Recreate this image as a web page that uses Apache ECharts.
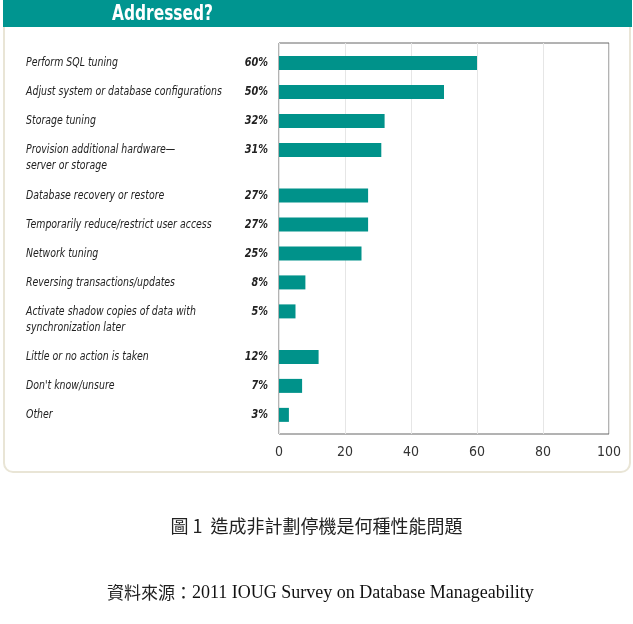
<!DOCTYPE html>
<html>
<head>
<meta charset="utf-8">
<script src="https://cdn.jsdelivr.net/npm/echarts@6/dist/echarts.min.js"></script>
<style>
  html, body { margin: 0; padding: 0; background: #fff; }
  #main { width: 633px; height: 624px; }
</style>
</head>
<body>
<div id="main"></div>
<script>
// answers, top to bottom ("\n" = label wraps to a second line)
var actions = [
  'Perform SQL tuning',
  'Adjust system or database configurations',
  'Storage tuning',
  'Provision additional hardware\u2014\nserver or storage',
  'Database recovery or restore',
  'Temporarily reduce/restrict user access',
  'Network tuning',
  'Reversing transactions/updates',
  'Activate shadow copies of data with\nsynchronization later',
  'Little or no action is taken',
  "Don't know/unsure",
  'Other'
];
var percents = [60, 50, 32, 31, 27, 27, 25, 8, 5, 12, 7, 3];
var xTicks = [0, 20, 40, 60, 80, 100];

var narrow = '"Liberation Sans Narrow", "DejaVu Sans Condensed", sans-serif';

// row positions: a wrapped label pushes the next row down a bit
var rows = [];
var pos = 0;
for (var i = 0; i < actions.length; i++) {
  rows.push([percents[i], pos, actions[i]]);
  pos += actions[i].indexOf('\n') >= 0 ? 1.57 : 1;
}
var lastRow = rows[rows.length - 1][1];

var chart = echarts.init(document.getElementById('main'));

var option = {
  backgroundColor: '#fff',
  animation: false,
  graphic: [
    // card outline with rounded bottom corners
    {
      type: 'rect',
      shape: { x: 4, y: 20, width: 626, height: 452, r: [0, 0, 9, 9] },
      style: { fill: '#fff', stroke: '#e9e5d6', lineWidth: 2 },
      z: -10
    },
    // teal header band
    {
      type: 'rect',
      shape: { x: 3, y: 0, width: 629, height: 27 },
      style: { fill: '#009590' },
      z: -5
    },
    {
      type: 'text',
      x: 112, y: 3,
      scaleX: 0.78,
      style: { text: 'Addressed?', fill: '#fff', font: 'bold 22px ' + narrow }
    },
    {
      type: 'text',
      left: 'center', top: 517,
      style: {
        text: '圖 1  造成非計劃停機是何種性能問題',
        fill: '#222',
        font: '18px "Noto Sans CJK TC", serif'
      }
    },
    {
      type: 'text',
      left: 107, top: 584,
      style: {
        text: '{c|資料來源：}{e|2011 IOUG Survey on Database Manageability}',
        rich: {
          c: { fontFamily: '"Noto Sans CJK TC"', fontSize: 17, fill: '#222' },
          e: { fontFamily: '"Liberation Serif", serif', fontSize: 18, fill: '#111' }
        }
      }
    }
  ],
  grid: {
    left: 279, top: 43, width: 330, height: 391,
    show: true, borderColor: '#666', borderWidth: 1, backgroundColor: 'transparent'
  },
  xAxis: {
    type: 'value',
    min: 0, max: 100, interval: 20,
    axisLine: { show: false },
    axisTick: { show: false },
    splitLine: { show: true, lineStyle: { color: '#e6e6e6' } },
    axisLabel: {
      margin: 11,
      color: '#333',
      fontFamily: narrow,
      fontSize: 14,
      formatter: function (v) { return xTicks.indexOf(v) >= 0 ? String(v) : ''; }
    }
  },
  yAxis: {
    type: 'value',
    inverse: true,
    min: -0.69,
    max: lastRow + 0.66,
    show: false,
    splitLine: { show: false }
  },
  series: [{
    type: 'custom',
    data: rows,
    encode: { x: 0, y: 1 },
    renderItem: function (params, api) {
      var v = api.value(0);
      var p = api.value(1);
      var idx = params.dataIndex;
      var start = api.coord([0, p]);
      var end = api.coord([v, p]);
      var h = 14;
      return {
        type: 'group',
        children: [
          {
            type: 'rect',
            shape: { x: start[0], y: start[1] - h / 2, width: end[0] - start[0], height: h },
            style: { fill: '#00928a' }
          },
          {
            type: 'text',
            x: 26, y: start[1] - 8,
            scaleX: 0.87,
            style: {
              text: actions[idx],
              x: 0, y: 0,
              fill: '#222',
              font: 'italic 12px ' + narrow,
              lineHeight: 16,
              textAlign: 'left', textVerticalAlign: 'top'
            }
          },
          {
            type: 'text',
            x: start[0] - 11, y: start[1],
            scaleX: 0.9,
            style: {
              text: percents[idx] + '%',
              x: 0, y: 0,
              fill: '#222',
              font: 'italic bold 12px ' + narrow,
              textAlign: 'right', textVerticalAlign: 'middle'
            }
          }
        ]
      };
    }
  }]
};

chart.setOption(option);
</script>
</body>
</html>
